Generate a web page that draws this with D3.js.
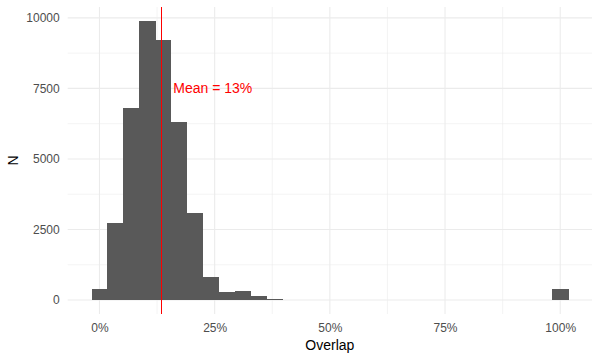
<!DOCTYPE html>
<html>
<head>
<meta charset="utf-8">
<script src="https://cdn.jsdelivr.net/npm/d3@7"></script>
<style>
  html, body { margin: 0; padding: 0; background: #fff; }
  svg { display: block; font-family: "Liberation Sans", Arial, sans-serif; }
</style>
</head>
<body>
<svg id="chart" width="600" height="360"></svg>
<script>
// ---- Data ----
const binCenters = [0, 0.0345, 0.0690, 0.1034, 0.1379, 0.1724, 0.2069, 0.2414, 0.2759, 0.3103,
                    0.3448, 0.3793, 0.4138, 0.4483, 0.4828, 0.5172, 0.5517, 0.5862, 0.6207, 0.6552,
                    0.6897, 0.7241, 0.7586, 0.7931, 0.8276, 0.8621, 0.8966, 0.9310, 0.9655, 1.0];
const counts = [390, 2740, 6810, 9890, 9220, 6310, 3085, 816, 284, 319,
                142, 35, 0, 0, 0, 0, 0, 0, 0, 0,
                0, 0, 0, 0, 0, 0, 0, 0, 0, 385];
const binWidth = 0.0345;
const meanValue = 0.1346;
const meanLabel = "Mean = 13%";
const labelY = 7500;
const xTicks = [0, 0.25, 0.5, 0.75, 1.0];
const xMinor = [0.125, 0.375, 0.625, 0.875];
const yTicks = [0, 2500, 5000, 7500, 10000];
const yMinor = [1250, 3750, 6250, 8750];
const xTitle = "Overlap";
const yTitle = "N";

// ---- Layout ----
const svg = d3.select("#chart");
const panel = { left: 67.7, right: 592, top: 7, bottom: 314 };

const x = d3.scaleLinear().domain([-0.0690, 1.0690]).range([panel.left, panel.right]);
const y = d3.scaleLinear().domain([-495, 10385]).range([panel.bottom, panel.top]);

const grid = svg.append("g");
// minor grid
grid.selectAll(".xminor").data(xMinor).join("line")
  .attr("x1", d => x(d)).attr("x2", d => x(d))
  .attr("y1", panel.top).attr("y2", panel.bottom)
  .attr("stroke", "#EBEBEB").attr("stroke-width", 0.53);
grid.selectAll(".yminor").data(yMinor).join("line")
  .attr("y1", d => y(d)).attr("y2", d => y(d))
  .attr("x1", panel.left).attr("x2", panel.right)
  .attr("stroke", "#EBEBEB").attr("stroke-width", 0.53);
// major grid
grid.selectAll(".xmajor").data(xTicks).join("line")
  .attr("x1", d => x(d)).attr("x2", d => x(d))
  .attr("y1", panel.top).attr("y2", panel.bottom)
  .attr("stroke", "#EBEBEB").attr("stroke-width", 1.07);
grid.selectAll(".ymajor").data(yTicks).join("line")
  .attr("y1", d => y(d)).attr("y2", d => y(d))
  .attr("x1", panel.left).attr("x2", panel.right)
  .attr("stroke", "#EBEBEB").attr("stroke-width", 1.07);

// bars
svg.append("g").attr("shape-rendering", "crispEdges")
  .selectAll("rect").data(counts).join("rect")
  .attr("x", (d, i) => x(binCenters[i] - binWidth / 2))
  .attr("width", (d, i) => x(binCenters[i] + binWidth / 2) - x(binCenters[i] - binWidth / 2) + 0.5)
  .attr("y", d => y(d))
  .attr("height", d => y(0) - y(d))
  .attr("fill", "#595959");

// mean line
const mx = Math.floor(x(meanValue)) + 0.5;
svg.append("line")
  .attr("x1", mx).attr("x2", mx)
  .attr("y1", panel.top).attr("y2", panel.bottom)
  .attr("stroke", "#FF0000").attr("stroke-width", 1);

svg.append("text")
  .attr("x", x(meanValue + 0.0255))
  .attr("y", y(labelY))
  .attr("dy", "0.36em")
  .attr("font-size", 14)
  .attr("fill", "#FF0000")
  .text(meanLabel);

// axes (no lines, just labels)
const xAxis = d3.axisBottom(x).tickValues(xTicks).tickSize(0).tickPadding(9)
  .tickFormat(d3.format(".0%"));
const gx = svg.append("g").attr("transform", `translate(0,${panel.bottom})`).call(xAxis);
gx.select(".domain").remove();
gx.selectAll("text").attr("font-size", 12).attr("fill", "#4D4D4D")
  .attr("font-family", "Liberation Sans, Arial, sans-serif");

const yAxis = d3.axisLeft(y).tickValues(yTicks).tickSize(0).tickPadding(8)
  .tickFormat(d3.format("d"));
const gy = svg.append("g").attr("transform", `translate(${panel.left},0)`).call(yAxis);
gy.select(".domain").remove();
gy.selectAll("text").attr("font-size", 12).attr("fill", "#4D4D4D")
  .attr("font-family", "Liberation Sans, Arial, sans-serif");

// axis titles
svg.append("text")
  .attr("x", (panel.left + panel.right) / 2)
  .attr("y", 350)
  .attr("text-anchor", "middle")
  .attr("font-size", 14)
  .attr("fill", "#000")
  .text(xTitle);

svg.append("text")
  .attr("transform", `translate(18,${(panel.top + panel.bottom) / 2}) rotate(-90)`)
  .attr("text-anchor", "middle")
  .attr("font-size", 14)
  .attr("fill", "#000")
  .text(yTitle);
</script>
</body>
</html>
